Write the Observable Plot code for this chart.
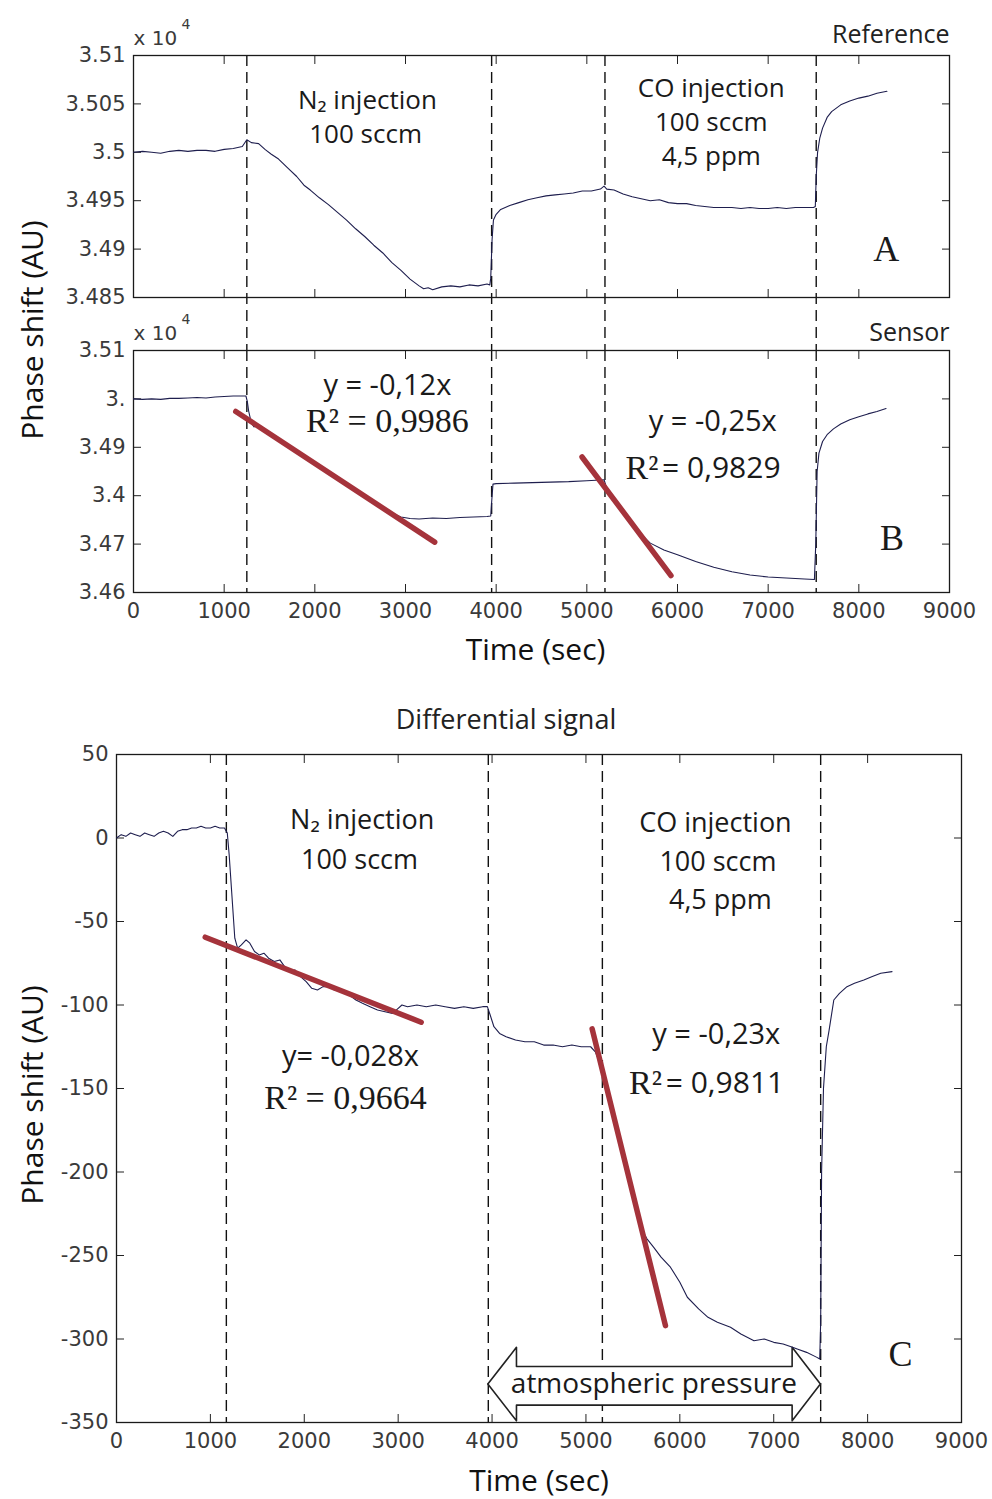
<!DOCTYPE html>
<html><head><meta charset="utf-8">
<script src="https://cdn.jsdelivr.net/npm/d3@7"></script>
<script src="https://cdn.jsdelivr.net/npm/@observablehq/plot@0.6"></script>
<style>
body{margin:0;background:#fff;}
#root{position:relative;width:992px;height:1499px;overflow:hidden;background:#fff;}
.panel{position:absolute;left:0;}
.ylab{position:absolute;font-family:"Open Sans",sans-serif;font-size:30px;color:#111;white-space:nowrap;transform:translate(-50%,-50%) rotate(-90deg);}
</style></head>
<body><div id="root"></div>
<script>
// ---------- data ----------
const xTicks = [0,1000,2000,3000,4000,5000,6000,7000,8000,9000];
const aYTicks = [34850,34900,34950,35000,35050,35100];
const aYLabels = ["3.485","3.49","3.495","3.5","3.505","3.51"];
const bYTicks = [34600,34700,34800,34900,35000,35100];
const bYLabels = ["3.46","3.47","3.4","3.49","3.","3.51"];
const cYTicks = [-350,-300,-250,-200,-150,-100,-50,0,50];
const abEvents = [1250,3950,5200,7530];
const cEvents = [1170,3960,5175,7500];

const refTime = [0,100,200,300,400,500,600,700,800,900,1000,1100,1200,1250,1300,1380,1450,1520,1600,1700,1800,1880,1950,2050,2150,2250,2350,2450,2550,2650,2750,2850,2950,3050,3150,3200,3250,3300,3400,3500,3600,3700,3800,3900,3930,3940,3955,3970,4000,4050,4150,4250,4350,4450,4550,4650,4750,4850,4950,5050,5150,5190,5220,5300,5400,5500,5600,5700,5800,5900,6000,6100,6200,6300,6400,6500,6600,6700,6800,6900,7000,7100,7200,7300,7400,7500,7520,7530,7545,7570,7600,7650,7700,7800,7900,8000,8100,8200,8310];
const refValue = [35000,35001,35000,34999,35001,35002,35001,35002,35002,35001,35003,35004,35006,35013,35010,35009,35003,34998,34993,34984,34975,34966,34961,34953,34946,34938,34930,34921,34913,34904,34896,34886,34878,34869,34862,34859,34860,34858,34861,34862,34861,34863,34862,34864,34863,34870,34910,34930,34936,34941,34945,34948,34951,34953,34955,34956,34957,34958,34960,34960,34962,34965,34962,34961,34957,34954,34952,34950,34951,34948,34947,34947,34945,34944,34943,34943,34943,34942,34943,34942,34942,34943,34942,34943,34943,34943,34944,34975,35000,35015,35025,35036,35042,35049,35053,35056,35058,35061,35063];

const senTime = [0,100,200,300,400,500,600,700,800,900,1000,1100,1240,1255,1270,1300,1330,1360,1400,1500,1700,1900,2100,2300,2500,2700,2850,2950,3050,3150,3300,3450,3600,3750,3900,3940,3955,3965,4000,4200,4400,4600,4800,5000,5100,5190,5220,5300,5400,5500,5600,5700,5850,6000,6200,6400,6600,6800,7000,7200,7400,7510,7525,7540,7560,7600,7650,7720,7800,7900,8000,8100,8200,8300];
const senValue = [35000,34999,35000,34999,35001,35001,35002,35003,35002,35004,35005,35006,35006,34995,34975,34950,34942,34948,34944,34930,34904,34880,34855,34830,34806,34782,34764,34756,34753,34752,34754,34753,34755,34756,34757,34758,34800,34824,34825,34826,34827,34828,34829,34831,34832,34833,34815,34795,34770,34745,34720,34702,34688,34678,34664,34652,34643,34636,34632,34630,34628,34627,34700,34850,34888,34912,34926,34938,34948,34957,34963,34969,34974,34980];

const diffTime = [0,50,100,150,200,250,300,350,400,450,500,550,600,650,700,750,800,850,900,950,1000,1050,1100,1150,1180,1200,1230,1260,1290,1330,1380,1420,1470,1520,1570,1620,1680,1740,1790,1850,1900,1960,2020,2080,2140,2200,2260,2320,2400,2480,2550,2620,2700,2780,2860,2940,3000,3040,3100,3200,3300,3400,3500,3600,3700,3800,3900,3950,3980,4020,4080,4150,4250,4350,4450,4550,4650,4750,4850,4950,5050,5100,5150,5200,5300,5400,5500,5600,5650,5720,5800,5900,6000,6080,6200,6300,6400,6540,6650,6790,6900,7000,7100,7200,7250,7350,7460,7490,7500,7510,7530,7560,7590,7640,7700,7780,7860,7960,8050,8140,8260];
const diffValue = [0,2,1,3,2,1,3,2,1,3,4,3,1,4,5,5,6,6,7,6,6,7,6,6,3,-10,-35,-60,-66,-64,-61,-63,-68,-70,-69,-72,-74,-73,-77,-80,-79,-83,-86,-90,-91,-89,-89,-91,-92,-94,-97,-99,-101,-103,-104,-105,-102,-100,-101,-100,-101,-100,-101,-102,-101,-102,-101,-101,-106,-113,-117,-119,-121,-122,-122,-124,-124,-125,-124,-125,-125,-128,-135,-145,-168,-190,-213,-235,-240,-245,-251,-257,-266,-275,-282,-287,-290,-293,-297,-301,-300,-302,-303,-305,-306,-308,-311,-312,-290,-200,-150,-125,-115,-97,-93,-89,-87,-85,-83,-81,-80];

// linear fits drawn in red (end points)
const fitB1Time = [1128,3322], fitB1Value = [34974,34704];
const fitB2Time = [4947,5928], fitB2Value = [34880,34635];
const fitC1Time = [945,3245], fitC1Value = [-59.4,-110.3];
const fitC2Time = [5066,5847], fitC2Value = [-114.3,-292];

// ---------- helpers ----------
const zip = (T, V) => T.map((t, i) => ({t, v: V[i]}));
const ref = zip(refTime, refValue), sen = zip(senTime, senValue), diff = zip(diffTime, diffValue);
const aMap = new Map(aYTicks.map((d, i) => [d, aYLabels[i]]));
const bMap = new Map(bYTicks.map((d, i) => [d, bYLabels[i]]));

const SANS = "'Open Sans', 'Noto Sans', sans-serif";
const SERIF = "'Liberation Serif', 'Times New Roman', serif";
const TICKF = "'DejaVu Sans', 'Liberation Sans', sans-serif";
const tickFont = {fontFamily: TICKF, fontSize: 21, fill: "#3a3a3a"};
const curveColor = "#1e1e4e";
const red = "#a5333b";

function axesFrame(yTicks, yFmt, showX) {
  return [
    Plot.axisX({anchor: "top", ticks: xTicks, tickSize: -8, tickFormat: () => "", label: null, stroke: "#222"}),
    Plot.axisX({anchor: "bottom", ticks: xTicks, tickSize: -8, tickPadding: 19, tickFormat: showX ? (d => String(d)) : (() => ""), label: null, stroke: "#222", ...tickFont}),
    Plot.axisY({anchor: "left", ticks: yTicks, tickSize: -8, tickPadding: 16, tickFormat: yFmt, label: null, stroke: "#222", ...tickFont}),
    Plot.axisY({anchor: "right", ticks: yTicks, tickSize: -8, tickFormat: () => "", label: null, stroke: "#222"}),
    Plot.frame({stroke: "#1a1a1a", strokeWidth: 1.3})
  ];
}
const txt = (items, opts) => Plot.text(items, {x: "x", y: "y", text: "s", textAnchor: "middle", lineAnchor: "middle", fill: "#1a1a1a", ...opts});
const style = {background: "transparent", overflow: "visible"};
const dash = {stroke: "#111", strokeWidth: 1.4, strokeDasharray: "11,6"};
const xten = [
  Plot.text(["x 10"], {frameAnchor: "top-left", textAnchor: "start", lineAnchor: "bottom", dy: -11, fontSize: 20, fontFamily: TICKF, fill: "#3a3a3a"}),
  Plot.text(["4"], {frameAnchor: "top-left", textAnchor: "start", lineAnchor: "bottom", dx: 48, dy: -27, fontSize: 14, fontFamily: TICKF, fill: "#3a3a3a"})
];

// ---------- panel A ----------
const plotA = Plot.plot({
  width: 992, height: 298, marginTop: 55, marginBottom: 1, marginLeft: 133, marginRight: 43,
  x: {domain: [0, 9000]}, y: {domain: [34850, 35100]}, style,
  marks: [
    Plot.ruleX(abEvents, {...dash, insetBottom: -53}),
    ...axesFrame(aYTicks, d => aMap.get(d), false),
    Plot.line(ref, {x: "t", y: "v", stroke: curveColor, strokeWidth: 1.1}),
    Plot.text(["Reference"], {frameAnchor: "top-right", textAnchor: "end", lineAnchor: "bottom", dy: -13, fontSize: 25, fontFamily: SANS, fill: "#222"}),
    ...xten,
    txt([{x: 2580, y: 35053, s: "N₂ injection"}, {x: 2560, y: 35018, s: "100 sccm"},
         {x: 6373, y: 35066, s: "CO injection"}, {x: 6373, y: 35031, s: "100 sccm"}, {x: 6373, y: 34996, s: "4,5 ppm"}],
        {fontSize: 26, fontFamily: SANS}),
    txt([{x: 8302, y: 34900, s: "A"}], {fontSize: 36, fontFamily: SERIF})
  ]
});

// ---------- panel B ----------
const plotB = Plot.plot({
  width: 992, height: 370, marginTop: 50, marginBottom: 78, marginLeft: 133, marginRight: 43,
  x: {domain: [0, 9000]}, y: {domain: [34600, 35100]}, style,
  marks: [
    Plot.ruleX(abEvents, dash),
    ...axesFrame(bYTicks, d => bMap.get(d), true),
    Plot.line(sen, {x: "t", y: "v", stroke: curveColor, strokeWidth: 1.1}),
    Plot.line(zip(fitB1Time, fitB1Value), {x: "t", y: "v", stroke: red, strokeWidth: 5.5}),
    Plot.line(zip(fitB2Time, fitB2Value), {x: "t", y: "v", stroke: red, strokeWidth: 5.5}),
    Plot.text(["Sensor"], {frameAnchor: "top-right", textAnchor: "end", lineAnchor: "bottom", dy: -10, fontSize: 25, fontFamily: SANS, fill: "#222"}),
    ...xten,
    Plot.text(["Time (sec)"], {frameAnchor: "bottom", lineAnchor: "middle", dy: 58, dx: -6, fontSize: 30, fontFamily: SANS, fill: "#111"}),
    txt([{x: 2800, y: 35028, s: "y = -0,12x"}, {x: 6389, y: 34952, s: "y = -0,25x"}], {fontSize: 29, fontFamily: SANS}),
    txt([{x: 2800, y: 34955, s: "R² = 0,9986"}], {fontSize: 34, fontFamily: SERIF}),
    txt([{x: 5790, y: 34856, s: "R²"}], {fontSize: 34, fontFamily: SERIF, textAnchor: "end"}),
    txt([{x: 5830, y: 34856, s: "= 0,9829"}], {fontSize: 30, fontFamily: SANS, textAnchor: "start"}),
    txt([{x: 8365, y: 34711, s: "B"}], {fontSize: 36, fontFamily: SERIF})
  ]
});

// ---------- panel C ----------
const arrow = [
  {t: 3955, v: -327}, {t: 4260, v: -305}, {t: 4260, v: -316.5}, {t: 7196, v: -316.5}, {t: 7196, v: -305},
  {t: 7497, v: -327}, {t: 7196, v: -349}, {t: 7196, v: -339.6}, {t: 4260, v: -339.6}, {t: 4260, v: -349}, {t: 3955, v: -327}
];
const plotC = Plot.plot({
  width: 992, height: 799, marginTop: 54, marginBottom: 77, marginLeft: 116, marginRight: 31,
  x: {domain: [0, 9000]}, y: {domain: [-350, 50]}, style,
  marks: [
    Plot.ruleX(cEvents, dash),
    ...axesFrame(cYTicks, d => String(d), true),
    Plot.line(arrow, {x: "t", y: "v", stroke: "#222", strokeWidth: 1.6, fill: "white"}),
    Plot.line(diff, {x: "t", y: "v", stroke: curveColor, strokeWidth: 1.1}),
    Plot.line(zip(fitC1Time, fitC1Value), {x: "t", y: "v", stroke: red, strokeWidth: 5.5}),
    Plot.line(zip(fitC2Time, fitC2Value), {x: "t", y: "v", stroke: red, strokeWidth: 5.5}),
    Plot.text(["Differential signal"], {frameAnchor: "top", lineAnchor: "middle", dy: -34, dx: -33, fontSize: 27, fontFamily: SANS, fill: "#222"}),
    Plot.text(["Time (sec)"], {frameAnchor: "bottom", lineAnchor: "middle", dy: 59, fontSize: 30, fontFamily: SANS, fill: "#111"}),
    txt([{x: 2617, y: 10.5, s: "N₂ injection"}, {x: 2588, y: -13.5, s: "100 sccm"},
         {x: 6379, y: 8.5, s: "CO injection"}, {x: 6406, y: -14.5, s: "100 sccm"}, {x: 6432, y: -37.4, s: "4,5 ppm"}],
        {fontSize: 27, fontFamily: SANS}),
    txt([{x: 2492, y: -131, s: "y= -0,028x"}, {x: 6388, y: -118, s: "y = -0,23x"}], {fontSize: 29, fontFamily: SANS}),
    txt([{x: 2439, y: -156, s: "R² = 0,9664"}], {fontSize: 34, fontFamily: SERIF}),
    txt([{x: 5810, y: -147, s: "R²"}], {fontSize: 34, fontFamily: SERIF, textAnchor: "end"}),
    txt([{x: 5850, y: -147, s: "= 0,9811"}], {fontSize: 30, fontFamily: SANS, textAnchor: "start"}),
    txt([{x: 5724, y: -327, s: "atmospheric pressure"}], {fontSize: 28, fontFamily: SANS}),
    txt([{x: 8349, y: -309, s: "C"}], {fontSize: 36, fontFamily: SERIF})
  ]
});

// ---------- layout ----------
const root = document.getElementById("root");
function place(node, top) {
  const d = document.createElement("div");
  d.className = "panel"; d.style.top = top + "px";
  d.appendChild(node); root.appendChild(d);
}
place(plotA, 0); place(plotB, 300); place(plotC, 700);
function ylab(text, x, y) {
  const d = document.createElement("div");
  d.className = "ylab"; d.textContent = text;
  d.style.left = x + "px"; d.style.top = y + "px";
  root.appendChild(d);
}
ylab("Phase shift (AU)", 31, 330);
ylab("Phase shift (AU)", 31, 1095);
</script></body></html>
